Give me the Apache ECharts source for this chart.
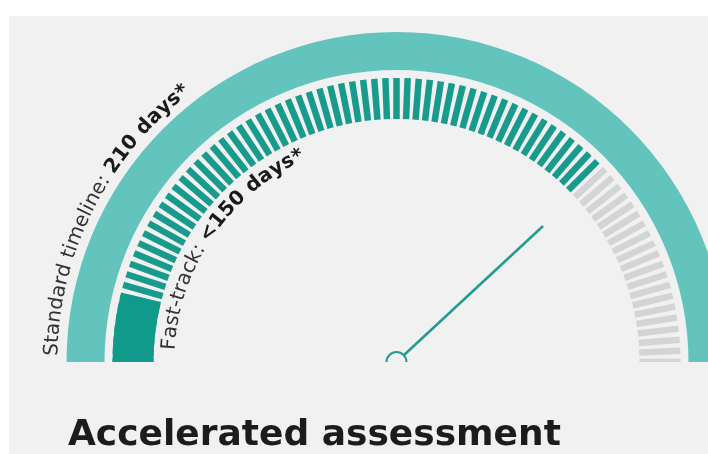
<!DOCTYPE html>
<html><head><meta charset="utf-8">
<script src="https://cdn.jsdelivr.net/npm/echarts@6/dist/echarts.min.js"></script>
<style>html,body{margin:0;padding:0;background:#fff}#c{width:708px;height:454px}</style>
</head><body><div id="c"></div>
<script>
// ---- data (days) ----
const scaleMax = 210;          // standard timeline = full arc
const tickCount = 80;          // divisions of the segmented ring
const blockEnd = 16;           // solid dark segment at start of ring
const fastTrackEnd = 158;      // end of teal (fast-track) ticks
const needleValue = 160;       // needle position
const standardLabel = [{text:'Standard timeline: ', bold:false}, {text:'210 days*', bold:true}];
const fastLabel = [{text:'Fast-track: ', bold:false}, {text:'<150 days*', bold:true}];
const titleText = 'Accelerated assessment';

// ---- style ----
const bg = '#f1f1f1';
const bandColor = '#63c3bd';
const tickTeal = '#189b8d';
const blockColor = '#109a8b';
const tickGrey = '#d3d4d5';
const needleColor = '#239c8f';
const FONT = '"DejaVu Sans", Verdana, sans-serif';
const cx = 396.5, cy = 362;

function arcText(parts, rBase, rMid, startDeg, size) {
  const ctx = document.createElement('canvas').getContext('2d');
  const els = [];
  let s = 0;
  parts.forEach(p => {
    const font = (p.bold ? 'bold ' : '') + size + 'px ' + FONT;
    ctx.font = font;
    for (const ch of p.text) {
      const w = ctx.measureText(ch).width;
      const a = Math.PI - startDeg * Math.PI / 180 - (s + w / 2) / rBase;
      els.push({
        type: 'text',
        x: cx + rMid * Math.cos(a),
        y: cy - rMid * Math.sin(a),
        rotation: a - Math.PI / 2,
        style: { text: ch, font: font, fill: p.bold ? '#1a1a1a' : '#333', align: 'center', verticalAlign: 'middle' },
        silent: true
      });
      s += w;
    }
  });
  return els;
}

const chart = echarts.init(document.getElementById('c'));
const common = { type: 'gauge', center: [cx, cy], startAngle: 180, endAngle: 0, min: 0, max: scaleMax,
  axisTick: { show: false }, axisLabel: { show: false }, title: { show: false }, detail: { show: false }, silent: true };

chart.setOption({
  backgroundColor: '#ffffff',
  animation: false,
  title: { text: titleText, left: 68, top: 418, padding: 0,
    textStyle: { fontFamily: FONT, fontSize: 36, fontWeight: 'bold', color: '#1c1c1c' } },
  graphic: [
    { type: 'rect', shape: { x: 9, y: 16, width: 708, height: 454 }, style: { fill: bg }, z: -10, silent: true },
    { type: 'rect', shape: { x: 9, y: cy, width: 708, height: 20 }, style: { fill: bg }, z: 100, silent: true },
    ...arcText(standardLabel, 338, 344.5, 1, 20),
    ...arcText(fastLabel, 221, 227.5, 3, 20)
  ],
  series: [
    Object.assign({}, common, {
      radius: 330,
      axisLine: { lineStyle: { width: 38, color: [[1, bandColor]] } },
      splitLine: { show: false }, pointer: { show: false }, data: [{ value: scaleMax }]
    }),
    Object.assign({}, common, {
      radius: 284, splitNumber: tickCount,
      axisLine: { show: false, lineStyle: { width: 0, color: [[blockEnd / scaleMax, blockColor], [fastTrackEnd / scaleMax, tickTeal], [1, tickGrey]] } },
      splitLine: { show: true, distance: 0, length: 41, lineStyle: { width: 6.5, color: 'auto' } },
      pointer: { show: true, icon: 'rect', width: 2.5, length: 200, itemStyle: { color: needleColor } },
      anchor: { show: true, showAbove: true, icon: 'path://M0,10 A10,10 0 0 1 20,10', size: 20, offsetCenter: [0, -5], keepAspect: true,
        itemStyle: { color: bg, borderColor: needleColor, borderWidth: 2 } },
      data: [{ value: needleValue }]
    }),
    Object.assign({}, common, {
      radius: 284,
      axisLine: { lineStyle: { width: 41, color: [[blockEnd / scaleMax, blockColor], [1, 'rgba(0,0,0,0)']] } },
      splitLine: { show: false }, pointer: { show: false }, data: [{ value: 0 }]
    })
  ]
});
</script></body></html>
